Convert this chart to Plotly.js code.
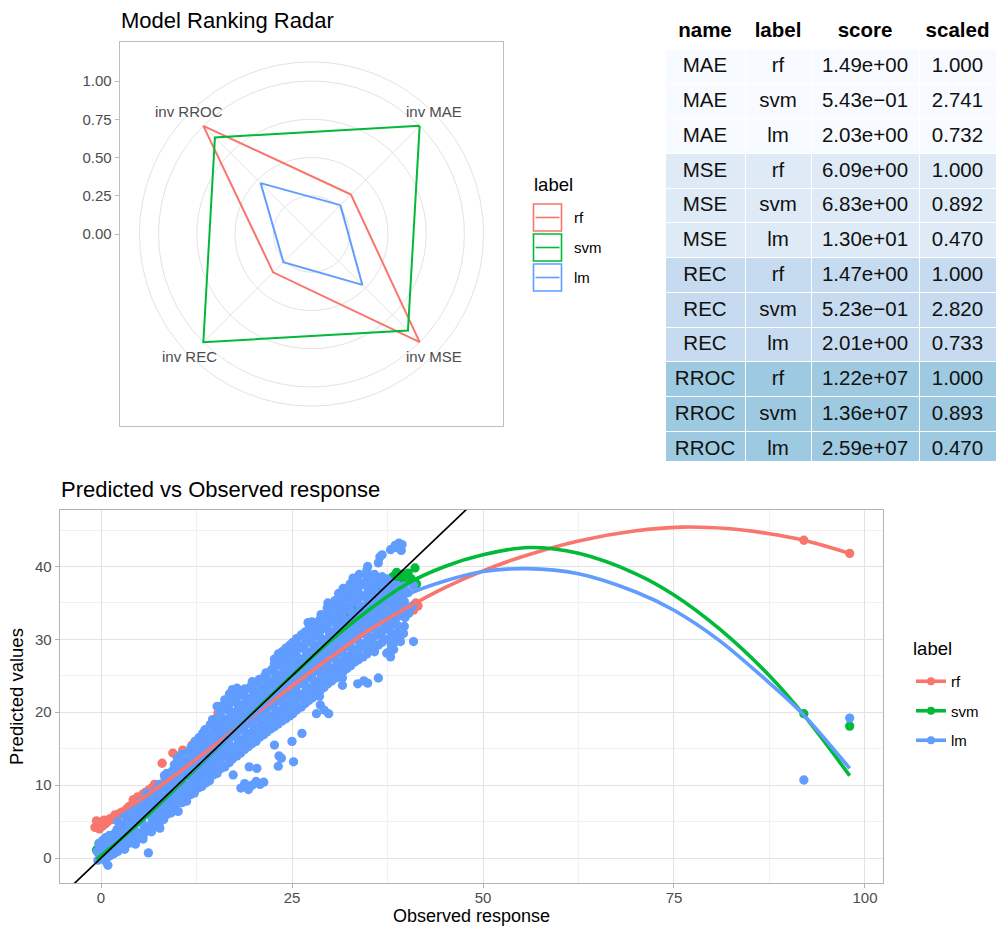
<!DOCTYPE html>
<html><head><meta charset="utf-8">
<script src="https://cdn.plot.ly/plotly-3.0.1.min.js"></script>
<style>html,body{margin:0;padding:0;background:#fff}#chart{width:996px;height:928px}</style>
</head><body><div id="chart"></div>
<script>
// ---------------- data ----------------
const models = ['rf', 'svm', 'lm'];
const metrics = ['MAE', 'MSE', 'REC', 'RROC'];
const radarAxisLabels = ['inv MAE', 'inv MSE', 'inv REC', 'inv RROC'];
// table values (per metric, in metrics order)
const scoreRf  = [1.49, 6.09, 1.47, 1.22e7];
const scoreSvm = [0.543, 6.83, 0.523, 1.36e7];
const scoreLm  = [2.03, 13.0, 2.01, 2.59e7];
const scaledRf  = [1.000, 1.000, 1.000, 1.000];
const scaledSvm = [2.741, 0.892, 2.820, 0.893];
const scaledLm  = [0.732, 0.470, 0.733, 0.470];
const radarTicks = [0, 0.25, 0.5, 0.75, 1.0];

// scatter: [observed, predicted]
const rfPoints = [[-0.8,4.2],[-0.6,5.1],[-0.4,4.6],[-0.2,4.0],[0.0,4.9],[0.2,4.4],[0.4,5.2],[0.6,4.7],[0.9,5.0],[1.2,5.4],[1.5,5.3],[1.8,5.9],[2.1,5.6],[2.4,6.1],[2.7,6.3],[3.0,6.0],[3.3,6.7],[3.6,7.0],[3.9,7.2],[4.2,8.0],[4.5,7.6],[4.8,8.4],[5.2,8.2],[5.5,8.8],[5.8,9.0],[6.2,9.3],[6.6,9.6],[7.0,10.1],[7.4,9.9],[8.0,13.0],[8.4,10.8],[9.0,11.6],[9.4,14.4],[9.8,12.0],[10.7,14.8],[11.0,12.6],[11.9,15.5],[12.3,13.6],[13.0,14.0],[13.6,15.0],[14.2,15.8],[14.7,18.9],[15.3,19.9],[15.0,16.3],[15.8,17.0],[16.5,21.7],[16.4,17.5],[17.2,18.3],[17.8,19.2],[18.3,19.5],[19.0,20.2],[19.5,19.0],[20.0,21.0],[20.6,20.4],[21.2,21.5],[21.8,22.0],[22.3,21.6],[22.9,22.8],[23.5,23.3],[24.0,22.9],[24.6,24.2],[25.2,24.7],[25.8,25.0],[26.3,24.3],[26.9,26.1],[27.5,26.3],[28.1,27.0],[28.7,27.6],[29.1,26.3],[29.6,28.3],[30.2,28.0],[30.8,29.1],[31.4,29.5],[32.2,29.0],[32.6,30.6],[33.2,30.9],[33.8,31.6],[34.3,32.0],[34.7,33.6],[35.2,32.4],[35.8,33.1],[36.4,33.5],[37.0,34.0],[37.6,31.5],[37.9,32.2],[38.3,33.2],[38.6,34.4],[39.0,33.8],[39.4,34.8],[39.8,33.5],[40.3,34.3],[40.9,34.0],[41.2,35.0],[41.5,34.6],[92.0,43.6],[98.0,41.8]];

const svmPoints = [[-0.6,1.1],[-0.4,0.8],[0.2,1.4],[0.8,1.0],[1.5,2.1],[2.5,1.8],[2.9,3.4],[3.5,3.6],[4.2,4.6],[5.0,5.3],[5.8,6.2],[6.6,6.4],[7.4,7.8],[8.2,8.0],[9.0,7.3],[9.6,9.4],[10.3,10.6],[11.0,9.7],[11.8,11.9],[12.6,12.4],[13.4,13.8],[14.2,14.1],[15.0,15.6],[15.8,15.9],[16.6,17.0],[17.4,17.2],[18.2,18.7],[19.0,18.9],[19.8,20.3],[20.6,20.5],[21.4,21.9],[22.2,21.8],[23.0,23.5],[23.8,23.6],[24.6,25.0],[25.4,25.1],[26.2,26.6],[27.0,26.5],[27.8,28.1],[28.6,28.3],[29.4,29.9],[30.2,29.8],[30.9,32.2],[31.0,32.6],[31.6,31.4],[32.4,33.1],[33.0,32.6],[33.6,34.5],[34.2,34.0],[34.8,35.8],[35.4,35.0],[35.9,36.6],[36.5,37.0],[36.9,36.2],[37.3,37.9],[37.8,37.3],[38.2,38.6],[38.7,39.2],[39.0,38.1],[39.4,38.9],[39.6,37.7],[39.8,38.8],[40.2,39.1],[40.6,38.3],[41.1,39.8],[41.3,37.6],[92.0,19.8],[98.0,18.1]];

const lmPoints = [[-0.4,-0.3],[-0.5,0.9],[-0.3,2.0],[0.1,0.0],[0.0,1.2],[0.2,2.4],[0.6,-0.4],[0.5,0.8],[0.7,1.9],[0.6,2.8],[0.9,-1.0],
[1.2,0.3],[1.3,1.6],[1.1,3.1],[1.7,0.6],[1.6,2.0],[1.8,3.4],[2.2,0.9],[2.3,2.3],[2.1,3.9],[2.2,5.0],[2.7,1.4],[2.8,2.9],[2.6,4.4],
[3.1,1.2],[3.0,3.2],[3.2,4.8],[3.1,5.9],[3.6,2.0],[3.7,3.6],[3.5,5.3],[4.0,2.5],[4.1,4.1],[3.9,5.7],[4.0,6.8],[4.5,1.9],[4.6,3.0],[4.4,4.6],[4.5,6.2],
[5.0,3.3],[5.1,5.0],[4.9,6.6],[5.0,7.6],[5.5,2.6],[5.6,3.9],[5.4,5.6],[5.5,7.2],[6.2,0.7],[6.1,4.3],[6.3,6.0],[6.2,7.7],[6.0,8.9],
[6.6,3.6],[6.7,5.1],[6.5,6.7],[7.1,4.4],[7.0,6.1],[7.2,7.5],[7.1,9.2],[7.7,4.1],[7.6,5.2],[7.8,7.0],[7.7,8.6],[7.6,10.1],
[8.2,5.3],[8.3,6.6],[8.1,8.2],[8.2,9.7],[8.3,11.3],[8.7,6.0],[8.6,7.5],[8.8,9.1],[8.7,10.6],[9.2,6.2],[9.3,7.3],[9.1,8.8],[9.2,10.2],[9.3,11.9],
[9.7,6.9],[9.6,8.4],[9.8,9.9],[9.7,11.3],[9.6,12.8],[10.1,6.4],[10.2,7.8],[10.0,9.3],[10.1,10.8],[10.2,12.4],[10.0,13.7],
[10.6,7.6],[10.7,9.0],[10.5,10.5],[10.6,12.0],[10.7,13.4],[11.2,7.8],[11.1,8.5],[11.3,10.0],[11.2,11.5],[11.1,13.0],[11.3,14.5],
[11.7,8.7],[11.8,10.3],[11.6,11.9],[11.7,13.5],[11.8,15.2],[12.2,8.9],[12.1,10.0],[12.3,11.5],[12.2,13.0],[12.1,14.6],[12.3,16.0],
[12.7,9.6],[12.8,11.2],[12.6,12.7],[12.7,14.2],[12.8,15.7],[13.2,9.8],[13.1,11.0],[13.3,12.4],[13.2,13.9],[13.1,15.5],[13.3,17.1],
[13.7,10.3],[13.8,11.8],[13.6,13.3],[13.7,14.8],[13.8,16.4],[13.6,17.6],[14.2,10.6],[14.1,12.1],[14.3,13.6],[14.2,15.2],[14.1,16.8],[14.3,18.3],
[14.7,11.4],[14.8,12.9],[14.6,14.4],[14.7,16.0],[14.8,17.5],[14.6,19.0],[15.2,11.6],[15.1,13.0],[15.3,14.6],[15.2,16.1],[15.1,17.6],[15.3,19.2],[15.2,20.8],
[15.7,12.3],[15.8,13.8],[15.6,15.3],[15.7,16.9],[15.8,18.5],[15.6,20.1],[16.2,12.5],[16.1,14.0],[16.3,15.6],[16.2,17.2],[16.1,18.8],[16.3,20.4],[16.2,21.7],
[16.8,13.1],[16.9,14.6],[16.7,16.2],[16.8,17.8],[16.9,19.3],[16.7,20.9],[16.8,22.5],[17.3,11.4],[17.2,13.6],[17.4,15.1],[17.3,16.7],[17.2,18.3],[17.4,19.9],[17.3,21.5],[17.2,23.1],
[17.8,14.0],[17.9,15.6],[17.7,17.2],[17.8,18.8],[17.9,20.4],[17.7,22.0],[17.8,23.3],[18.3,9.6],[18.3,14.4],[18.2,16.0],[18.4,17.6],[18.3,19.2],[18.2,20.8],[18.4,22.4],
[18.8,10.2],[18.8,14.9],[18.9,16.5],[18.7,18.1],[18.8,19.7],[18.9,21.3],[18.7,22.8],[19.3,9.4],[19.4,12.5],[19.3,15.3],[19.2,16.9],[19.4,18.5],[19.3,20.1],[19.2,21.7],[19.4,23.3],
[19.8,10.0],[19.8,15.7],[19.9,17.3],[19.7,18.9],[19.8,20.5],[19.9,22.1],[19.7,23.7],[20.3,10.5],[20.4,12.3],[20.3,16.0],[20.2,17.6],[20.4,19.2],[20.3,20.8],[20.2,22.4],[20.4,24.0],
[20.8,10.1],[20.8,16.6],[20.9,18.2],[20.7,19.8],[20.8,21.4],[20.9,23.0],[20.7,24.5],[21.3,10.4],[21.3,16.9],[21.2,18.5],[21.4,20.1],[21.3,21.7],[21.2,23.3],[21.4,24.9],
[21.7,17.3],[21.8,18.9],[21.6,20.5],[21.7,22.1],[21.8,23.7],[21.6,25.4],[22.2,17.7],[22.1,19.3],[22.3,20.9],[22.2,22.5],[22.1,24.1],[22.3,25.8],
[22.7,15.5],[22.7,18.0],[22.8,19.6],[22.6,21.2],[22.7,22.8],[22.8,24.4],[22.6,26.1],[22.7,27.3],[23.2,12.6],[23.3,14.0],[23.2,18.4],[23.1,20.0],[23.3,21.6],[23.2,23.2],[23.1,24.8],[23.3,26.5],[23.2,28.0],
[23.6,13.7],[23.7,18.8],[23.8,20.4],[23.6,22.0],[23.7,23.6],[23.8,25.2],[23.6,26.9],[23.7,28.3],[24.2,19.1],[24.1,20.7],[24.3,22.3],[24.2,23.9],[24.1,25.5],[24.3,27.2],[24.2,28.8],
[24.7,19.5],[24.8,21.1],[24.6,22.7],[24.7,24.3],[24.8,25.9],[24.6,27.5],[24.7,29.2],[25.2,13.2],[25.0,16.0],[25.1,19.8],[25.2,21.4],[25.0,23.0],[25.1,24.6],[25.2,26.2],[25.0,27.8],[25.1,29.6],
[25.6,20.3],[25.7,21.9],[25.5,23.5],[25.6,25.1],[25.7,26.7],[25.5,28.4],[25.6,30.1],[26.3,17.1],[26.2,20.7],[26.1,22.3],[26.3,23.9],[26.2,25.5],[26.1,27.1],[26.3,28.8],[26.2,30.6],
[26.7,21.2],[26.8,22.8],[26.6,24.4],[26.7,26.0],[26.8,27.6],[26.6,29.3],[26.7,31.0],[27.2,21.6],[27.1,23.2],[27.3,24.8],[27.2,26.4],[27.1,28.0],[27.3,29.7],[27.2,31.4],[27.1,32.3],
[27.7,22.0],[27.8,23.6],[27.6,25.2],[27.7,26.8],[27.8,28.4],[27.6,30.1],[27.7,31.8],[28.2,19.8],[28.2,22.5],[28.1,24.1],[28.3,25.7],[28.2,27.3],[28.1,28.9],[28.3,30.6],[28.2,32.3],
[28.7,21.0],[28.7,23.0],[28.8,24.6],[28.6,26.2],[28.7,27.8],[28.8,29.4],[28.6,31.0],[28.7,32.8],[29.2,20.3],[29.2,23.4],[29.1,25.0],[29.3,26.6],[29.2,28.2],[29.1,29.8],[29.3,31.5],[29.2,33.2],
[29.8,19.8],[29.7,23.9],[29.8,25.5],[29.6,27.1],[29.7,28.7],[29.8,30.3],[29.6,32.0],[29.7,33.7],[29.7,35.0],[30.2,24.3],[30.1,25.9],[30.3,27.5],[30.2,29.1],[30.1,30.7],[30.3,32.4],[30.2,34.1],
[30.7,24.7],[30.8,26.3],[30.6,27.9],[30.7,29.5],[30.8,31.2],[30.6,32.9],[30.7,34.6],[31.2,25.0],[31.1,26.7],[31.3,28.3],[31.2,29.9],[31.1,31.6],[31.3,33.3],[31.2,35.0],[31.1,36.3],
[31.6,23.7],[31.7,25.6],[31.8,27.2],[31.6,28.8],[31.7,30.4],[31.8,32.1],[31.6,33.8],[31.7,35.5],[31.7,37.0],[32.2,26.0],[32.1,27.6],[32.3,29.2],[32.2,30.8],[32.1,32.5],[32.3,34.2],[32.2,35.9],
[32.7,26.4],[32.8,28.0],[32.6,29.6],[32.7,31.2],[32.8,32.9],[32.6,34.6],[32.7,36.3],[32.6,37.6],[33.2,26.9],[33.1,28.5],[33.3,30.1],[33.2,31.7],[33.1,33.4],[33.3,35.1],[33.2,36.8],[33.0,38.4],
[33.6,23.9],[33.7,27.2],[33.8,28.8],[33.6,30.4],[33.7,32.1],[33.8,33.8],[33.6,35.5],[33.7,37.2],[33.8,38.9],[34.4,24.3],[34.3,27.6],[34.2,29.2],[34.4,30.8],[34.3,32.5],[34.2,34.2],[34.4,35.9],[34.3,37.6],
[34.9,24.0],[34.8,28.0],[34.7,29.6],[34.9,31.3],[34.8,33.0],[34.7,34.7],[34.9,36.4],[34.8,38.1],[34.8,39.5],[34.9,40.0],[35.3,28.5],[35.4,30.1],[35.2,31.8],[35.3,33.5],[35.4,35.2],[35.2,36.9],[35.3,38.5],
[35.8,28.3],[35.9,30.5],[35.7,32.2],[35.8,33.9],[35.9,35.6],[35.7,37.3],[35.8,38.9],[36.3,24.7],[36.3,29.2],[36.4,30.9],[36.2,32.6],[36.3,34.3],[36.4,36.0],[36.2,37.7],[36.3,40.5],[36.5,41.3],
[36.8,29.6],[36.9,31.3],[36.7,33.0],[36.8,34.7],[36.9,36.4],[36.7,38.1],[36.8,41.6],[37.4,28.1],[37.5,30.0],[37.3,31.7],[37.4,33.4],[37.5,35.1],[37.3,36.8],[37.4,38.3],
[37.9,27.6],[38.0,29.2],[37.8,31.2],[37.9,32.9],[38.0,34.6],[37.8,36.3],[37.9,37.8],[37.9,42.3],[38.3,28.6],[38.4,30.6],[38.2,32.4],[38.3,34.2],[38.4,35.9],[38.2,37.4],[38.5,42.9],
[38.7,30.8],[38.8,33.1],[38.6,34.8],[38.7,36.5],[38.7,42.6],[39.0,43.2],[39.2,29.7],[39.1,30.8],[39.3,33.6],[39.2,35.3],[39.1,37.0],[39.3,42.2],[39.4,43.0],
[39.7,31.8],[39.8,34.2],[39.6,36.1],[39.7,37.3],[40.9,29.7],[40.8,34.6],[40.9,37.4],[92.0,10.7],[98.0,19.2],
[0.6,0.2],[0.6,1.4],[0.7,2.3],[1.6,1.3],[1.8,2.7],[2.6,2.2],[2.8,3.7],[3.5,2.8],[3.7,4.5],[3.6,6.1],
[4.6,2.5],[4.4,3.8],[4.5,5.4],[4.6,7.0],[5.6,3.3],[5.4,4.8],[5.5,6.4],[5.6,8.0],[6.7,4.4],[6.5,5.9],[6.6,7.6],[6.7,8.6],
[7.6,4.7],[7.8,6.1],[7.7,7.8],[7.6,9.4],[8.6,6.8],[8.8,8.3],[8.7,9.9],[8.6,11.6],[9.6,7.6],[9.8,9.2],[9.7,10.6],[9.6,12.1],
[10.7,8.3],[10.5,9.8],[10.6,11.3],[10.7,12.7],[10.5,14.2],[11.6,9.5],[11.8,11.1],[11.7,12.7],[11.6,14.3],
[12.6,10.4],[12.8,12.0],[12.7,13.5],[12.6,15.0],[12.8,16.5],[13.6,11.1],[13.8,12.6],[13.7,14.1],[13.6,15.6],[13.8,17.0],
[14.6,12.2],[14.8,13.7],[14.7,15.2],[14.6,16.8],[14.8,18.3],[15.6,13.1],[15.8,14.6],[15.7,16.1],[15.6,17.7],[15.8,19.3],[15.7,20.8],
[16.7,13.9],[16.9,15.4],[16.8,17.0],[16.7,18.6],[16.9,20.1],[16.8,21.7],[17.7,14.8],[17.9,16.4],[17.8,18.0],[17.7,19.6],[17.9,21.2],[17.8,22.7],
[18.7,15.7],[18.9,17.3],[18.8,18.9],[18.7,20.5],[18.9,22.1],[18.8,23.2],[19.7,16.5],[19.9,18.1],[19.8,19.7],[19.7,21.3],[19.9,22.9],[19.8,24.2],
[20.7,17.4],[20.9,19.0],[20.8,20.6],[20.7,22.2],[20.9,23.8],[21.6,18.1],[21.8,19.7],[21.7,21.3],[21.6,22.9],[21.8,24.6],
[22.6,18.8],[22.8,20.4],[22.7,22.0],[22.6,23.6],[22.8,25.3],[22.7,26.7],[23.6,19.6],[23.8,21.2],[23.7,22.8],[23.6,24.4],[23.8,26.1],[23.7,27.6],
[24.6,20.3],[24.8,21.9],[24.7,23.5],[24.6,25.1],[24.8,26.7],[24.7,28.4],[25.5,21.1],[25.7,22.7],[25.6,24.3],[25.5,25.9],[25.7,27.6],[25.6,29.3],
[26.6,22.0],[26.8,23.6],[26.7,25.2],[26.6,26.8],[26.8,28.5],[26.7,30.2],[27.6,22.8],[27.8,24.4],[27.7,26.0],[27.6,27.6],[27.8,29.3],[27.7,31.0],[27.6,32.4],
[28.6,22.2],[28.8,23.8],[28.7,25.4],[28.6,27.0],[28.8,28.6],[28.7,30.2],[28.6,31.9],[28.8,33.4],[29.6,24.7],[29.8,26.3],[29.7,27.9],[29.6,29.5],[29.8,31.2],[29.7,32.9],[29.6,34.3],
[30.6,25.5],[30.8,27.1],[30.7,28.7],[30.6,30.4],[30.8,32.1],[30.7,33.8],[30.6,35.3],[31.6,24.7],[31.8,26.4],[31.7,28.0],[31.6,29.6],[31.8,31.3],[31.7,33.0],[31.6,34.7],[31.8,36.3],
[32.6,27.2],[32.8,28.8],[32.7,30.4],[32.6,32.1],[32.8,33.8],[32.7,35.5],[32.6,37.0],[33.6,28.0],[33.8,29.6],[33.7,31.3],[33.6,33.0],[33.8,34.7],[33.7,36.4],[33.6,38.1],
[34.7,28.8],[34.9,30.5],[34.8,32.2],[34.7,33.9],[34.9,35.6],[34.8,37.3],[34.7,38.8],[35.7,29.4],[35.9,31.4],[35.8,33.1],[35.7,34.8],[35.9,36.5],[35.8,38.1],
[36.7,30.5],[36.9,32.2],[36.8,33.9],[36.7,35.6],[36.9,37.3],[36.8,38.6],[37.8,28.4],[38.0,30.2],[37.9,32.1],[37.8,33.8],[38.0,35.5],[37.9,37.1],
[38.6,29.7],[38.8,31.9],[38.7,34.0],[38.6,35.7],[38.8,37.4],[39.6,30.8],[39.8,33.0],[39.7,35.2],[40.2,36.4],[40.3,33.6]];

// smoothed trend curves
const rfCurveX  = [-0.8, 5, 10, 15, 20, 25, 30, 35, 40, 45, 50, 55, 62.5, 70, 76, 82, 87.5, 92, 98];
const rfCurveY  = [4.3, 7.9, 11.6, 15.6, 19.6, 23.6, 27.5, 31.2, 34.3, 37.1, 39.4, 41.3, 43.5, 44.9, 45.4, 45.2, 44.5, 43.6, 41.8];
const svmCurveX = [-0.6, 5, 10, 15, 20, 25, 30, 35, 40, 45, 50, 56, 62.5, 70, 75, 81, 87.5, 92, 98];
const svmCurveY = [-0.2, 4.8, 9.8, 14.9, 20.0, 25.0, 29.8, 34.0, 37.6, 40.0, 41.6, 42.6, 41.8, 39.0, 36.1, 31.4, 25.0, 19.6, 11.3];
const lmCurveX  = [-0.6, 5, 10, 15, 20, 25, 30, 35, 40, 45, 50, 55.7, 62.5, 70, 75, 81, 87.5, 92, 98];
const lmCurveY  = [0.5, 5.3, 10.1, 15.0, 19.8, 24.4, 28.9, 33.2, 36.1, 38.0, 39.3, 39.7, 39.0, 36.5, 34.0, 29.8, 24.0, 19.6, 12.3];
const identityLine = [-6, 50];
const xTicks = [0, 25, 50, 75, 100];

// ---------------- styling ----------------
const colors = {rf: '#F8766D', svm: '#00BA38', lm: '#619CFF'};
const tableFills = ['#f7fbff', '#deebf7', '#c6dbef', '#9ecae1'];
const FONT = 'Liberation Sans, Arial, Helvetica, sans-serif';
const W = 996, H = 928;
const px = v => v / W, py = v => 1 - v / H;
const axisAngles = [45, -45, -135, 135]; // MAE, MSE, REC, RROC

const scaledBy = {rf: scaledRf, svm: scaledSvm, lm: scaledLm};
const scoreBy = {rf: scoreRf, svm: scoreSvm, lm: scoreLm};
const metricMax = metrics.map((m, i) => Math.max(scaledRf[i], scaledSvm[i], scaledLm[i]));

function fmtSci(v) {
  const parts = v.toExponential(2).split('e');
  const e = parseInt(parts[1], 10);
  return parts[0] + 'e' + (e < 0 ? '\u2212' : '+') + String(Math.abs(e)).padStart(2, '0');
}

const traces = [];
// radar polygons
models.forEach(m => {
  const xs = [], ys = [];
  metrics.forEach((met, i) => {
    const r = scaledBy[m][i] / metricMax[i];
    const a = axisAngles[i] * Math.PI / 180;
    xs.push(r * Math.cos(a)); ys.push(r * Math.sin(a));
  });
  xs.push(xs[0]); ys.push(ys[0]);
  traces.push({type: 'scatter', mode: 'lines', x: xs, y: ys, xaxis: 'x', yaxis: 'y',
    line: {color: colors[m], width: 2}, showlegend: false, hoverinfo: 'skip'});
});

// table
const colName = [], colLabel = [], colScore = [], colScaled = [], rowFill = [];
metrics.forEach((met, i) => {
  models.forEach(m => {
    colName.push(met); colLabel.push(m);
    colScore.push(fmtSci(scoreBy[m][i]));
    colScaled.push(scaledBy[m][i].toFixed(3));
    rowFill.push(tableFills[i]);
  });
});
traces.push({
  type: 'table',
  domain: {x: [px(665), px(996)], y: [py(462), py(10)]},
  columnwidth: [80, 66, 108, 77],
  header: {values: ['<b>name</b>', '<b>label</b>', '<b>score</b>', '<b>scaled</b>'],
    align: 'center', height: 35, fill: {color: '#ffffff'}, line: {color: '#ffffff', width: 1},
    font: {family: FONT, size: 20.5, color: '#000'}},
  cells: {values: [colName, colLabel, colScore, colScaled], align: 'center', height: 34.75,
    fill: {color: [rowFill, rowFill, rowFill, rowFill]}, line: {color: '#ffffff', width: 1},
    font: {family: FONT, size: 20.5, color: '#111'}}
});

// scatter points
const ptsBy = {rf: rfPoints, svm: svmPoints, lm: lmPoints};
models.forEach(m => {
  traces.push({type: 'scatter', mode: 'markers', xaxis: 'x2', yaxis: 'y2',
    x: ptsBy[m].map(p => p[0]), y: ptsBy[m].map(p => p[1]),
    marker: {color: colors[m], size: 9.3}, showlegend: false, hoverinfo: 'skip'});
});
const curveBy = {rf: [rfCurveX, rfCurveY], svm: [svmCurveX, svmCurveY], lm: [lmCurveX, lmCurveY]};
models.forEach(m => {
  traces.push({type: 'scatter', mode: 'lines', xaxis: 'x2', yaxis: 'y2',
    x: curveBy[m][0], y: curveBy[m][1], line: {color: colors[m], width: 3.6, shape: 'spline', smoothing: 0.9},
    showlegend: false, hoverinfo: 'skip'});
});
traces.push({type: 'scatter', mode: 'lines', xaxis: 'x2', yaxis: 'y2', x: identityLine, y: identityLine,
  line: {color: '#000', width: 1.7}, showlegend: false, hoverinfo: 'skip'});
// legend entries
models.forEach(m => {
  traces.push({type: 'scatter', mode: 'lines+markers', xaxis: 'x2', yaxis: 'y2', x: [null], y: [null],
    name: m, legendgroup: m, line: {color: colors[m], width: 3.6}, marker: {color: colors[m], size: 8},
    showlegend: true});
});

// radar grid shapes + manual legend
const shapes = [];
[0.25, 0.5, 0.75, 1.0, 1.125].forEach(r => shapes.push({type: 'circle', xref: 'x', yref: 'y',
  x0: -r, x1: r, y0: -r, y1: r, line: {color: '#e3e3e3', width: 1}, layer: 'below'}));
axisAngles.forEach(a => {
  const t = a * Math.PI / 180;
  shapes.push({type: 'line', xref: 'x', yref: 'y', x0: 0, y0: 0, x1: Math.cos(t), y1: Math.sin(t),
    line: {color: '#e3e3e3', width: 1}, layer: 'below'});
});
const annotations = [];
models.forEach((m, i) => {
  const top = 204 + i * 30;
  shapes.push({type: 'rect', xref: 'paper', yref: 'paper', x0: px(533.5), x1: px(561.5), y0: py(top + 27), y1: py(top),
    line: {color: colors[m], width: 1.6}, fillcolor: 'rgba(0,0,0,0)'});
  shapes.push({type: 'line', xref: 'paper', yref: 'paper', x0: px(535.5), x1: px(559.5), y0: py(top + 13.5), y1: py(top + 13.5),
    line: {color: colors[m], width: 1.6}});
  annotations.push({xref: 'paper', yref: 'paper', x: px(572), y: py(top + 13.5), xanchor: 'left', yanchor: 'middle',
    text: m, showarrow: false, font: {size: 15, color: '#000'}});
});
annotations.push({xref: 'paper', yref: 'paper', x: px(532), y: py(184), xanchor: 'left', yanchor: 'middle',
  text: 'label', showarrow: false, font: {size: 18.5, color: '#000'}});
annotations.push({xref: 'paper', yref: 'paper', x: px(911), y: py(648), xanchor: 'left', yanchor: 'middle',
  text: 'label', showarrow: false, font: {size: 18.5, color: '#000'}});
radarAxisLabels.forEach((lab, i) => {
  const t = axisAngles[i] * Math.PI / 180, r = 1.13;
  annotations.push({xref: 'x', yref: 'y', x: r * Math.cos(t), y: r * Math.sin(t), text: lab, showarrow: false,
    xanchor: 'center', yanchor: 'middle', font: {size: 15, color: '#4d4d4d'}});
});
annotations.push({xref: 'paper', yref: 'paper', x: px(119), y: py(20), xanchor: 'left', yanchor: 'middle',
  text: 'Model Ranking Radar', showarrow: false, font: {size: 22, color: '#000'}});
annotations.push({xref: 'paper', yref: 'paper', x: px(59), y: py(489), xanchor: 'left', yanchor: 'middle',
  text: 'Predicted vs Observed response', showarrow: false, font: {size: 22, color: '#000'}});
// x-axis title of the lower panel
annotations.push({xref: 'paper', yref: 'paper', x: px(471), y: py(927), xanchor: 'center', yanchor: 'bottom',
  text: 'Observed response', showarrow: false, font: {size: 18, color: '#000'}, borderpad: 0});

const layout = {
  width: W, height: H, margin: {l: 0, r: 0, t: 0, b: 0},
  paper_bgcolor: '#fff', plot_bgcolor: '#fff',
  font: {family: FONT, color: '#000'},
  showlegend: true,
  xaxis: {domain: [px(120), px(503)], range: [-1.252, 1.252], anchor: 'y', showgrid: false, zeroline: false,
    showticklabels: false, ticks: '', showline: true, mirror: true, linecolor: '#bdbdbd', linewidth: 1.3, fixedrange: true},
  yaxis: {domain: [py(426), py(42)], range: [-1.255, 1.255], anchor: 'x', showgrid: false, zeroline: false,
    tickvals: radarTicks, ticktext: radarTicks.map(v => v.toFixed(2)), ticks: 'outside', ticklen: 4,
    tickcolor: '#bdbdbd', tickfont: {size: 15, color: '#4d4d4d'}, showline: true, mirror: true,
    linecolor: '#bdbdbd', linewidth: 1.3, fixedrange: true},
  xaxis2: {domain: [px(60), px(883)], range: [-5.37, 102.36], anchor: 'y2', tickvals: xTicks,
    ticktext: xTicks.map(String), ticks: 'outside', ticklen: 4, tickcolor: '#b3b3b3', ticklabelstandoff: -3,
    tickfont: {size: 15, color: '#4d4d4d'}, showgrid: true, gridcolor: '#e3e3e3', gridwidth: 1,
    minor: {tickvals: [12.5, 37.5, 62.5, 87.5], showgrid: true, gridcolor: '#f1f1f1', gridwidth: 1, ticks: ''},
    zeroline: false, showline: true, mirror: true, linecolor: '#b3b3b3', linewidth: 1.3},
  yaxis2: {domain: [py(883), py(510)], range: [-3.43, 47.75], anchor: 'x2', dtick: 10, tick0: 0,
    ticks: 'outside', ticklen: 4, tickcolor: '#b3b3b3', tickfont: {size: 15, color: '#4d4d4d'},
    showgrid: true, gridcolor: '#e3e3e3', gridwidth: 1,
    minor: {tickvals: [-5, 5, 15, 25, 35, 45], showgrid: true, gridcolor: '#f1f1f1', gridwidth: 1, ticks: ''},
    zeroline: false, showline: true, mirror: true, linecolor: '#b3b3b3', linewidth: 1.3,
    title: {text: 'Predicted values', font: {size: 18.5, color: '#000'}, standoff: 6}},
  legend: {x: px(911), xanchor: 'left', y: py(665), yanchor: 'top', bgcolor: 'rgba(0,0,0,0)',
    font: {size: 15, color: '#000'}, tracegroupgap: 7, itemwidth: 30},
  shapes: shapes, annotations: annotations
};
Plotly.newPlot('chart', traces, layout, {displayModeBar: false, staticPlot: true});
</script></body></html>
